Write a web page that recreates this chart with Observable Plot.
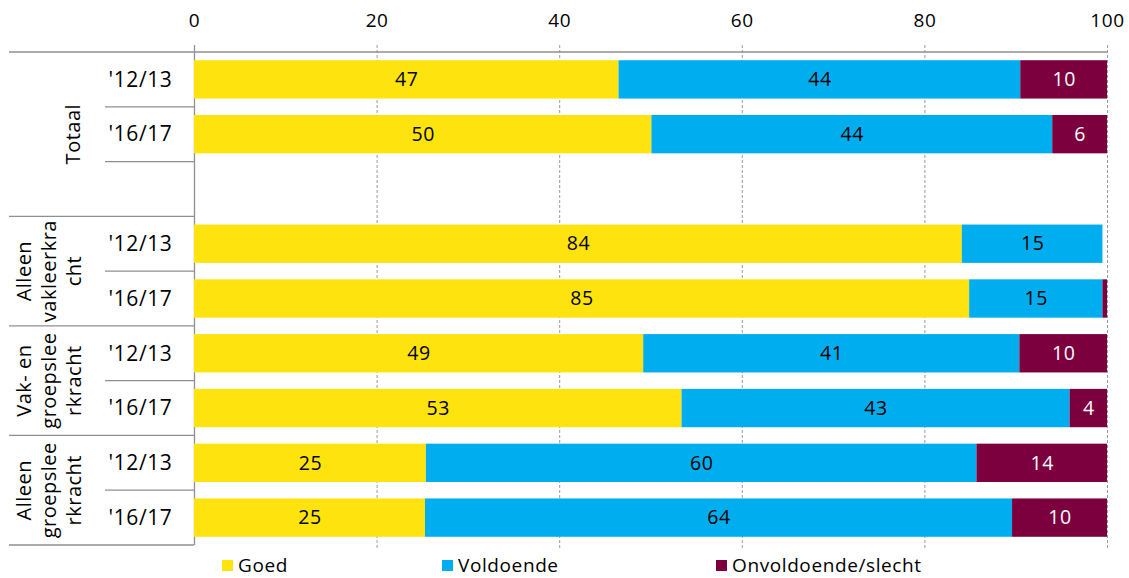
<!DOCTYPE html>
<html><head><meta charset="utf-8">
<script src="https://cdn.jsdelivr.net/npm/d3@7"></script>
<script src="https://cdn.jsdelivr.net/npm/@observablehq/plot@0.6"></script>
<style>
body{margin:0;background:#fff;font-family:"Open Sans",sans-serif;}
#legend{position:relative;height:26px;width:1129px;font-size:19px;letter-spacing:0.6px;color:#000;}
.item{position:absolute;top:4px;display:flex;align-items:center;line-height:19px;white-space:nowrap;}
.sw{width:11px;height:11px;margin-right:5px;}
</style></head><body><div id="chart"></div><div id="legend"></div>
<script>
// ---- data ----
const rowIds = ["T1","T2","T3","V1","V2","VG1","VG2","G1","G2"];
const periods = ["'12/13","'16/17","","'12/13","'16/17","'12/13","'16/17","'12/13","'16/17"];
const categories = ["Goed","Voldoende","Onvoldoende/slecht"];
const colors = ["#FFE30F","#00AEEF","#7B003D"];
const goed        = [46.5, 50.1, null, 84.1, 84.9, 49.2, 53.4, 25.4, 25.3];
const voldoende   = [44.0, 43.9, null, 15.4, 14.6, 41.2, 42.5, 60.3, 64.3];
const onvoldoende = [ 9.5,  6.0, null,  0.0,  0.5,  9.6,  4.1, 14.3, 10.4];
const groupLabels = [["Totaal"],["Alleen","vakleerkra","cht"],["Vak- en","groepslee","rkracht"],["Alleen","groepslee","rkracht"]];
const groupRows = [[0,1,2],[3,4],[5,6],[7,8]];
const xTicks = [0,20,40,60,80,100];

const series = [goed, voldoende, onvoldoende];
const data = [];
rowIds.forEach((r,i)=>{
  series.forEach((s,k)=>{ if (s[i] != null) data.push({row:r, cat:categories[k], value:s[i]}); });
});

const font = "Open Sans, sans-serif";
const plot = Plot.plot({
  width:1129, height:552, marginTop:52, marginLeft:194, marginRight:22, marginBottom:7,
  style:{fontFamily:font, fontSize:"19px", background:"white", overflow:"visible", letterSpacing:"0.6px", color:"#000"},
  x:{domain:[0,100], axis:null},
  y:{domain:rowIds, paddingInner:0.3, paddingOuter:0.15, round:false, axis:null},
  color:{domain:categories, range:colors},
  marks:[
    Plot.ruleX(xTicks.slice(1), {stroke:"#9a9a9a", strokeOpacity:1, strokeDasharray:"3,2", insetTop:-7, insetBottom:-3}),
    Plot.ruleX([0], {stroke:"#8f8f8f", strokeWidth:1.3, insetTop:-7}),
    Plot.barX(data, Plot.stackX({x:"value", y:"row", z:"cat", fill:"cat", order:categories})),
    Plot.text(data, Plot.stackX({x:"value", y:"row", z:"cat", order:categories,
      text: d => d.cat !== categories[2] && d.value >= 2 ? String(Math.round(d.value)) : "",
      fill:"black", fontSize:19.5})),
    Plot.text(data, Plot.stackX({x:"value", y:"row", z:"cat", order:categories,
      text: d => d.cat === categories[2] && d.value >= 2 ? String(Math.round(d.value)) : "",
      fill:"white", fontSize:19.5})),
    Plot.text(rowIds, {y:d=>d, text:(d,i)=>periods[i], frameAnchor:"left", textAnchor:"middle", dx:-54, fontSize:21, fill:"black"}),
    Plot.axisX(xTicks, {anchor:"top", tickSize:0, tickPadding:26, fontSize:19, fill:"black", label:null})
  ]
});
document.getElementById("chart").appendChild(plot);

// table lines and group labels, positioned with Plot's scales
const ys = plot.scale("y"), xs = plot.scale("x");
const half = (ys.step - ys.bandwidth)/2;
const x0 = xs.apply(0), x100 = xs.apply(100);
const svg = d3.select(plot);
const g = svg.append("g").attr("stroke","#8f8f8f").attr("stroke-width",1.3);
const topY = ys.apply(rowIds[0]) - half;
g.append("line").attr("x1",9).attr("x2",x100).attr("y1",topY).attr("y2",topY);
const lastOfGroup = new Set(groupRows.map(r=>r[r.length-1]));
rowIds.forEach((r,i)=>{
  const y = ys.apply(r) + ys.bandwidth + half;
  g.append("line").attr("x1", lastOfGroup.has(i) ? 9 : 105).attr("x2", x0).attr("y1",y).attr("y2",y);
});
const gl = svg.append("g").attr("font-family",font).attr("font-size",20).attr("fill","black").style("letter-spacing","0.5px");
groupLabels.forEach((lines,gi)=>{
  const rs = groupRows[gi];
  const y1 = ys.apply(rowIds[rs[0]]) - half;
  const y2 = ys.apply(rowIds[rs[rs.length-1]]) + ys.bandwidth + half;
  const cy = (y1+y2)/2;
  const cx = lines.length === 1 ? 73 : 49;
  const t = gl.append("text").attr("transform",`translate(${cx},${cy}) rotate(-90)`).attr("text-anchor","middle");
  lines.forEach((ln,li)=>{
    t.append("tspan").attr("x",0).attr("y",(li-(lines.length-1)/2)*25).attr("dy","0.36em").text(ln);
  });
});

// legend
const legendX = [222, 442, 716];
const lg = document.getElementById("legend");
categories.forEach((c,i)=>{
  const it = document.createElement("div");
  it.className="item"; it.style.left = legendX[i]+"px";
  it.innerHTML = `<span class="sw" style="background:${colors[i]}"></span><span>${c}</span>`;
  lg.appendChild(it);
});
</script>
</body></html>
